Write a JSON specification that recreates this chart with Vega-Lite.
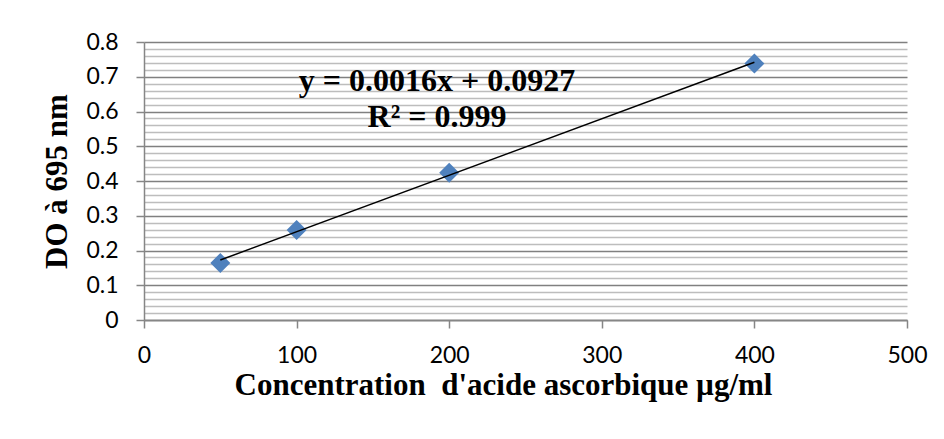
{
  "$schema": "https://vega.github.io/schema/vega-lite/v6.json",
  "width": 763,
  "height": 278,
  "autosize": {"type": "none"},
  "padding": {"left": 144, "top": 42, "right": 37, "bottom": 119},
  "background": "white",
  "config": {"view": {"stroke": null}},
  "datasets": {
    "points": [
      {"conc": 50, "DO": 0.164},
      {"conc": 100, "DO": 0.259},
      {"conc": 200, "DO": 0.424},
      {"conc": 400, "DO": 0.738}
    ],
    "labels": [
      {"label": "y = 0.0016x + 0.0927", "conc": 192, "DO": 0.688},
      {"label": "R² = 0.999", "conc": 192, "DO": 0.583}
    ]
  },
  "resolve": {"axis": {"y": "independent"}},
  "layer": [
    {
      "data": {"name": "points"},
      "mark": {"type": "point", "shape": "diamond", "filled": true, "opacity": 1, "color": "#4F81BD", "size": 400},
      "encoding": {
        "x": {
          "field": "conc", "type": "quantitative",
          "scale": {"domain": [0, 500], "nice": false, "zero": true},
          "axis": {
            "values": [0, 100, 200, 300, 400, 500],
            "format": "d",
            "grid": false,
            "domainColor": "#868686", "domainWidth": 1.5,
            "tickColor": "#868686", "tickWidth": 1.5, "tickSize": 8,
            "labelFont": "Lato", "labelFontSize": 23, "labelColor": "#000000", "labelPadding": 16,
            "labelFlush": false,
            "title": "Concentration\u00a0 d'acide ascorbique µg/ml",
            "titleFont": "Liberation Serif", "titleFontWeight": "bold", "titleFontSize": 31,
            "titleColor": "#000000", "titlePadding": 3, "titleX": 359
          }
        },
        "y": {
          "field": "DO", "type": "quantitative",
          "scale": {"domain": [0, 0.8], "nice": false},
          "axis": {
            "orient": "left",
            "values": [0, 0.02, 0.04, 0.06, 0.08, 0.12, 0.14, 0.16, 0.18, 0.22, 0.24, 0.26, 0.28, 0.32, 0.34, 0.36, 0.38, 0.42, 0.44, 0.46, 0.48, 0.52, 0.54, 0.56, 0.58, 0.62, 0.64, 0.66, 0.68, 0.72, 0.74, 0.76, 0.78],
            "grid": true, "gridColor": "#bdbdbd", "gridWidth": 1.3,
            "labels": false, "ticks": false, "domain": false, "title": null
          }
        }
      }
    },
    {
      "data": {"name": "points"},
      "transform": [{"regression": "DO", "on": "conc", "method": "linear", "extent": [50, 400]}],
      "mark": {"type": "line", "color": "#000000", "strokeWidth": 1.5},
      "encoding": {
        "x": {"field": "conc", "type": "quantitative"},
        "y": {
          "field": "DO", "type": "quantitative",
          "axis": {
            "orient": "left",
            "values": [0, 0.1, 0.2, 0.3, 0.4, 0.5, 0.6, 0.7, 0.8],
            "format": ".1~f",
            "grid": true, "gridColor": "#808080", "gridWidth": 1.6,
            "domainColor": "#868686", "domainWidth": 1.5,
            "tickColor": "#868686", "tickWidth": 1.5, "tickSize": 8,
            "labelFont": "Lato", "labelFontSize": 23, "labelColor": "#000000", "labelPadding": 18,
            "labelFlush": false,
            "title": "DO à 695 nm",
            "titleFont": "Liberation Serif", "titleFontWeight": "bold", "titleFontSize": 31,
            "titleColor": "#000000", "titlePadding": 12
          }
        }
      }
    },
    {
      "data": {"name": "labels"},
      "mark": {"type": "text", "font": "Liberation Serif", "fontWeight": "bold", "fontSize": 32, "color": "#000000", "align": "center", "baseline": "middle"},
      "encoding": {
        "x": {"field": "conc", "type": "quantitative"},
        "y": {"field": "DO", "type": "quantitative", "axis": null},
        "text": {"field": "label"}
      }
    }
  ]
}
